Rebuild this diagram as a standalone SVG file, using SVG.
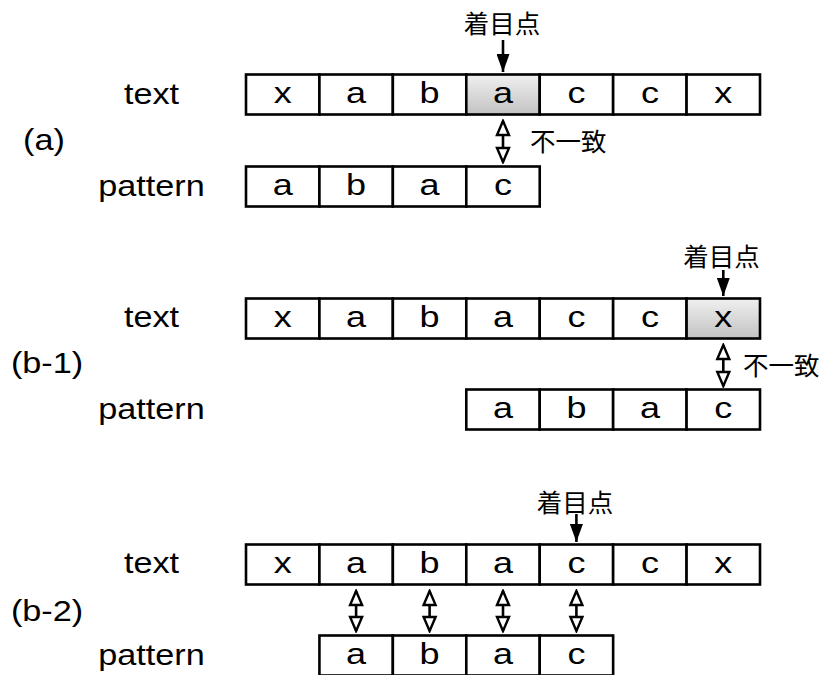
<svg xmlns="http://www.w3.org/2000/svg" width="823" height="675" viewBox="0 0 823 675">
<style>
.cell{fill:#fff;stroke:#000;stroke-width:2.6}
.hl{fill:url(#gray);stroke:#000;stroke-width:2.6}
.ch{font-family:"Liberation Sans",Arial,sans-serif;font-size:30px;fill:#000;text-anchor:middle}
.lb{font-family:"Liberation Sans",Arial,sans-serif;font-size:29px;fill:#000;text-anchor:middle}
.jp{font-family:"Noto Sans CJK JP",sans-serif;font-size:25.5px;fill:#000}
.down{stroke:#000;stroke-width:2.6;fill:none;marker-end:url(#solid)}
.both{stroke:#000;stroke-width:2.6;fill:none;marker-start:url(#hollow);marker-end:url(#hollow)}
</style>
<defs>
<linearGradient id="gray" x1="0" y1="0" x2="0" y2="1">
<stop offset="0" stop-color="#f0f0f0"/>
<stop offset="1" stop-color="#c2c2c2"/>
</linearGradient>
<marker id="solid" viewBox="0 0 13 18" refX="6.5" refY="18" markerWidth="13" markerHeight="18" markerUnits="userSpaceOnUse" orient="0">
<path d="M0,0 L13,0 L6.5,18 z" fill="#000"/>
</marker>
<marker id="hollow" viewBox="-2 -2 18 16" refX="14" refY="6" markerWidth="18" markerHeight="16" markerUnits="userSpaceOnUse" orient="auto-start-reverse">
<path d="M0,0 L14,6 L0,12 z" fill="#fff" stroke="#000" stroke-width="2.4"/>
</marker>
</defs>

<g id="labels">
<text class="lb" transform="translate(151.5,104) scale(1.18,1)">text</text>
<text class="lb" transform="translate(151.5,196) scale(1.18,1)">pattern</text>
<text class="lb" transform="translate(44,150) scale(1.18,1)">(a)</text>
<text class="lb" transform="translate(47,373) scale(1.18,1)">(b-1)</text>
<text class="lb" transform="translate(151.5,327) scale(1.18,1)">text</text>
<text class="lb" transform="translate(151.5,419) scale(1.18,1)">pattern</text>
<text class="lb" transform="translate(47,621) scale(1.18,1)">(b-2)</text>
<text class="lb" transform="translate(151.5,573) scale(1.18,1)">text</text>
<text class="lb" transform="translate(151.5,665) scale(1.18,1)">pattern</text>
</g>

<!-- (a) -->
<g id="a-text">
<rect class="cell" x="246" y="74.5" width="73.43" height="40"/>
<rect class="cell" x="319.43" y="74.5" width="73.43" height="40"/>
<rect class="cell" x="392.86" y="74.5" width="73.43" height="40"/>
<rect class="hl" x="466.29" y="74.5" width="73.43" height="40"/>
<rect class="cell" x="539.71" y="74.5" width="73.43" height="40"/>
<rect class="cell" x="613.14" y="74.5" width="73.43" height="40"/>
<rect class="cell" x="686.57" y="74.5" width="73.43" height="40"/>
<text class="ch" transform="translate(282.7,103) scale(1.2,1)">x</text>
<text class="ch" transform="translate(356.1,103) scale(1.2,1)">a</text>
<text class="ch" transform="translate(429.6,103) scale(1.2,1)">b</text>
<text class="ch" transform="translate(503,103) scale(1.2,1)">a</text>
<text class="ch" transform="translate(576.4,103) scale(1.2,1)">c</text>
<text class="ch" transform="translate(649.9,103) scale(1.2,1)">c</text>
<text class="ch" transform="translate(723.3,103) scale(1.2,1)">x</text>
</g>
<g id="a-pattern">
<rect class="cell" x="246" y="166.5" width="73.43" height="40"/>
<rect class="cell" x="319.43" y="166.5" width="73.43" height="40"/>
<rect class="cell" x="392.86" y="166.5" width="73.43" height="40"/>
<rect class="cell" x="466.29" y="166.5" width="73.43" height="40"/>
<text class="ch" transform="translate(282.7,195) scale(1.2,1)">a</text>
<text class="ch" transform="translate(356.1,195) scale(1.2,1)">b</text>
<text class="ch" transform="translate(429.6,195) scale(1.2,1)">a</text>
<text class="ch" transform="translate(503,195) scale(1.2,1)">c</text>
</g>
<g id="a-focus"><text class="jp" x="502" y="33" text-anchor="middle">着目点</text></g>
<g id="a-mismatch"><text class="jp" x="530" y="151">不一致</text></g>

<!-- (b-1) -->
<g id="b1-text">
<rect class="cell" x="246" y="298.5" width="73.43" height="40"/>
<rect class="cell" x="319.43" y="298.5" width="73.43" height="40"/>
<rect class="cell" x="392.86" y="298.5" width="73.43" height="40"/>
<rect class="cell" x="466.29" y="298.5" width="73.43" height="40"/>
<rect class="cell" x="539.71" y="298.5" width="73.43" height="40"/>
<rect class="cell" x="613.14" y="298.5" width="73.43" height="40"/>
<rect class="hl" x="686.57" y="298.5" width="73.43" height="40"/>
<text class="ch" transform="translate(282.7,327) scale(1.2,1)">x</text>
<text class="ch" transform="translate(356.1,327) scale(1.2,1)">a</text>
<text class="ch" transform="translate(429.6,327) scale(1.2,1)">b</text>
<text class="ch" transform="translate(503,327) scale(1.2,1)">a</text>
<text class="ch" transform="translate(576.4,327) scale(1.2,1)">c</text>
<text class="ch" transform="translate(649.9,327) scale(1.2,1)">c</text>
<text class="ch" transform="translate(723.3,327) scale(1.2,1)">x</text>
</g>
<g id="b1-pattern">
<rect class="cell" x="466.29" y="389.5" width="73.43" height="40"/>
<rect class="cell" x="539.71" y="389.5" width="73.43" height="40"/>
<rect class="cell" x="613.14" y="389.5" width="73.43" height="40"/>
<rect class="cell" x="686.57" y="389.5" width="73.43" height="40"/>
<text class="ch" transform="translate(503,418) scale(1.2,1)">a</text>
<text class="ch" transform="translate(576.4,418) scale(1.2,1)">b</text>
<text class="ch" transform="translate(649.9,418) scale(1.2,1)">a</text>
<text class="ch" transform="translate(723.3,418) scale(1.2,1)">c</text>
</g>
<g id="b1-focus"><text class="jp" x="721.5" y="265.5" text-anchor="middle">着目点</text></g>
<g id="b1-mismatch"><text class="jp" x="743" y="374.5">不一致</text></g>

<!-- (b-2) -->
<g id="b2-text">
<rect class="cell" x="246" y="544.5" width="73.43" height="40"/>
<rect class="cell" x="319.43" y="544.5" width="73.43" height="40"/>
<rect class="cell" x="392.86" y="544.5" width="73.43" height="40"/>
<rect class="cell" x="466.29" y="544.5" width="73.43" height="40"/>
<rect class="cell" x="539.71" y="544.5" width="73.43" height="40"/>
<rect class="cell" x="613.14" y="544.5" width="73.43" height="40"/>
<rect class="cell" x="686.57" y="544.5" width="73.43" height="40"/>
<text class="ch" transform="translate(282.7,573) scale(1.2,1)">x</text>
<text class="ch" transform="translate(356.1,573) scale(1.2,1)">a</text>
<text class="ch" transform="translate(429.6,573) scale(1.2,1)">b</text>
<text class="ch" transform="translate(503,573) scale(1.2,1)">a</text>
<text class="ch" transform="translate(576.4,573) scale(1.2,1)">c</text>
<text class="ch" transform="translate(649.9,573) scale(1.2,1)">c</text>
<text class="ch" transform="translate(723.3,573) scale(1.2,1)">x</text>
</g>
<g id="b2-pattern">
<rect class="cell" x="319.43" y="635.5" width="73.43" height="40"/>
<rect class="cell" x="392.86" y="635.5" width="73.43" height="40"/>
<rect class="cell" x="466.29" y="635.5" width="73.43" height="40"/>
<rect class="cell" x="539.71" y="635.5" width="73.43" height="40"/>
<text class="ch" transform="translate(356.1,664) scale(1.2,1)">a</text>
<text class="ch" transform="translate(429.6,664) scale(1.2,1)">b</text>
<text class="ch" transform="translate(503,664) scale(1.2,1)">a</text>
<text class="ch" transform="translate(576.4,664) scale(1.2,1)">c</text>
</g>
<g id="b2-focus"><text class="jp" x="575" y="512" text-anchor="middle">着目点</text></g>

<g id="connectors">
<path class="down" d="M503,40 V72"/>
<path class="both" d="M503,121 V162"/>
<path class="down" d="M723.3,270 V296"/>
<path class="both" d="M723.3,345 V386"/>
<path class="down" d="M576.4,514 V542"/>
<path class="both" d="M356.1,591 V631"/>
<path class="both" d="M429.6,591 V631"/>
<path class="both" d="M503,591 V631"/>
<path class="both" d="M576.4,591 V631"/>
</g>
</svg>
